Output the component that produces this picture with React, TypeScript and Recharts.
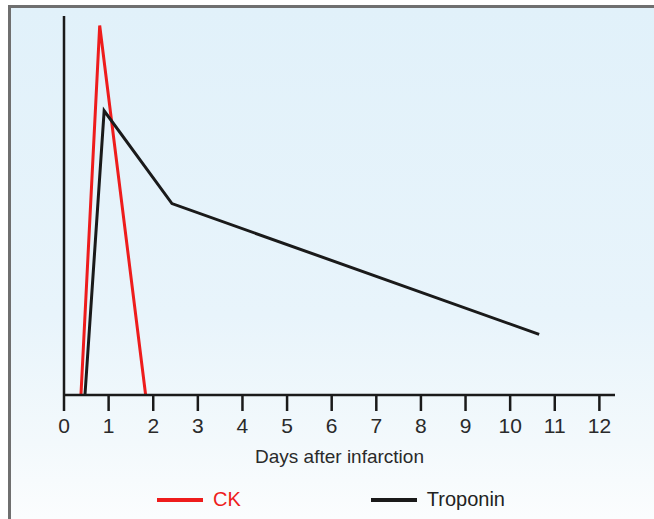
import { LineChart, Line, XAxis, YAxis, Legend } from "recharts";

// days after infarction vs relative level (peak ~100)
const ckDays = [0.38, 0.8, 1.83];
const ckLevels = [0, 97.5, 0];
const troponinDays = [0.47, 0.9, 2.42, 10.65];
const troponinLevels = [0, 75, 50.5, 16];
const dayTicks = [0, 1, 2, 3, 4, 5, 6, 7, 8, 9, 10, 11, 12];

const ckData = ckDays.map((d, i) => ({ day: d, level: ckLevels[i] }));
const troponinData = troponinDays.map((d, i) => ({ day: d, level: troponinLevels[i] }));

const FONT = "'Liberation Sans', Arial, sans-serif";

const legendItems = [
  { name: "CK", color: "#ee1c1c", text: "#ee1c1c" },
  { name: "Troponin", color: "#1a1a1a", text: "#222" },
];

function ChartLegend() {
  return (
    <div style={{ display: "flex", fontFamily: FONT, fontSize: 20 }}>
      {legendItems.map((it, i) => (
        <div
          key={it.name}
          style={{
            display: "flex",
            alignItems: "center",
            marginLeft: i === 0 ? 157 : 130,
          }}
        >
          <span style={{ display: "inline-block", width: 46, height: 4, background: it.color }} />
          <span style={{ marginLeft: 10, color: it.text }}>{it.name}</span>
        </div>
      ))}
    </div>
  );
}

export default function App() {
  return (
    <div style={{ position: "absolute", left: 0, top: 0, width: 654, height: 519, background: "#fff" }}>
      <div
        style={{
          position: "absolute",
          left: 8,
          top: 5,
          right: 0,
          bottom: 0,
          borderTop: "3px solid #6f6f6f",
          borderLeft: "3px solid #6f6f6f",
          background: "linear-gradient(180deg, #e1f1fa 0%, #e8f4fb 60%, #f3f9fc 85%, #fbfdfe 100%)",
        }}
      />
      <div style={{ position: "absolute", left: 0, top: 0 }}>
        <LineChart width={654} height={519} margin={{ top: 16, right: 39, left: 62, bottom: 21 }}>
          <XAxis
            type="number"
            dataKey="day"
            domain={[0, 12.35]}
            ticks={dayTicks}
            allowDuplicatedCategory={false}
            axisLine={{ stroke: "#1a1a1a", strokeWidth: 2.5 }}
            tickLine={{ stroke: "#1a1a1a", strokeWidth: 2.5 }}
            tickSize={16}
            tick={{ fill: "#2a2a2a", fontSize: 21, fontFamily: FONT, dy: 5 }}
            height={80}
            label={{
              value: "Days after infarction",
              position: "insideBottom",
              offset: 12,
              fill: "#2a2a2a",
              fontSize: 19,
              fontFamily: FONT,
            }}
          />
          <YAxis
            type="number"
            domain={[0, 100]}
            width={2}
            tick={false}
            tickLine={false}
            axisLine={{ stroke: "#1a1a1a", strokeWidth: 2.5 }}
          />
          <Legend content={<ChartLegend />} wrapperStyle={{ left: 0, top: 488, width: 654 }} />
          <Line
            data={ckData}
            dataKey="level"
            name="CK"
            type="linear"
            stroke="#ee1c1c"
            strokeWidth={3}
            dot={false}
            isAnimationActive={false}
          />
          <Line
            data={troponinData}
            dataKey="level"
            name="Troponin"
            type="linear"
            stroke="#1a1a1a"
            strokeWidth={3}
            dot={false}
            isAnimationActive={false}
          />
        </LineChart>
      </div>
    </div>
  );
}
